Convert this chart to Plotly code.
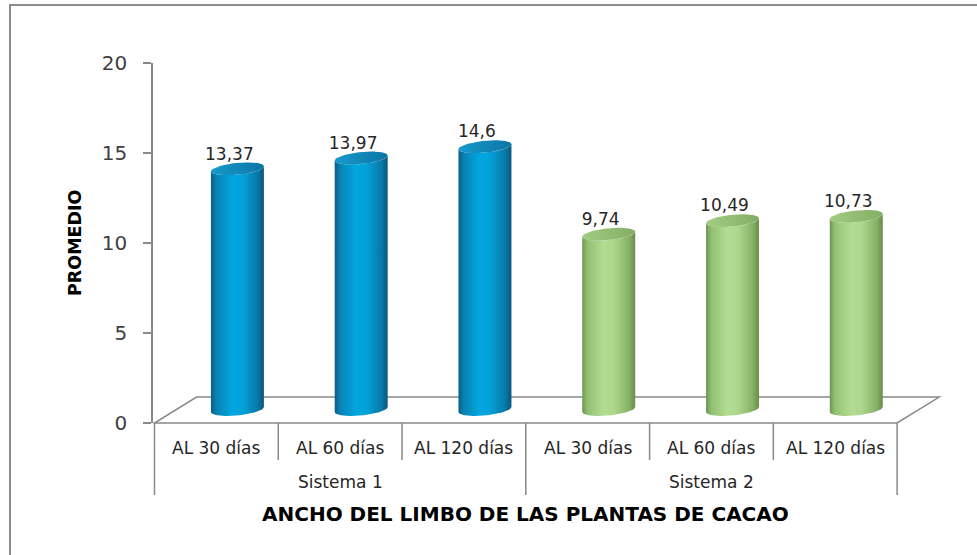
import numpy as np
import plotly.graph_objects as go

# ---- data ----
categories = ["AL 30 días", "AL 60 días", "AL 120 días"]
groups = ["Sistema 1", "Sistema 2"]
sistema1 = [13.37, 13.97, 14.6]
sistema2 = [9.74, 10.49, 10.73]
y_ticks = [0, 5, 10, 15, 20]

series = [sistema1, sistema2]

# ---- style ----
FONT = "DejaVu Sans"
AXIS_GRAY = "#898989"
BLUE_BODY = [[0, "#0B5C84"], [0.1, "#0A82B3"], [0.4, "#02A7E0"], [0.6, "#03A1D9"],
             [0.88, "#0879A9"], [1, "#0B567C"]]
BLUE_CAP = [[0, "#1899CC"], [1, "#0A76A6"]]
GREEN_BODY = [[0, "#6C9753"], [0.1, "#92C072"], [0.4, "#B3DC93"], [0.6, "#ADD78C"],
              [0.88, "#86B266"], [1, "#688D4E"]]
GREEN_CAP = [[0, "#A2CC82"], [1, "#82AD62"]]

# pseudo-3D geometry (axis units)
DEPTH_X, DEPTH_Y = 0.34, 1.44      # floor depth offset
BAR_DX = DEPTH_X / 2               # cylinders sit mid-depth
BASE = 0.75                        # floor height at mid-depth
RX, RY, TILT = 0.214, 0.33, 0.14   # ellipse radii and slight tilt

X_RANGE = [-0.012, 6.5]
Y_RANGE = [0, 20]
ML, MR, MT, MB = 153, 18, 63, 132
W, H = 977, 555
PLOT_W, PLOT_H = W - ML - MR, H - MT - MB


def px_to_paper_x(px):
    return (px - ML) / PLOT_W


def px_to_paper_y(py):
    return (H - MB - py) / PLOT_H


fig = go.Figure()

n_cat = len(categories)
for g, (vals, body_cs, cap_cs) in enumerate(zip(series, [BLUE_BODY, GREEN_BODY], [BLUE_CAP, GREEN_CAP])):
    for k, v in enumerate(vals):
        i = g * n_cat + k
        cx = i + 0.5 + BAR_DX
        top = v + BASE
        t_front = np.linspace(np.pi, 2 * np.pi, 41)
        bx = cx + RX * np.cos(t_front)
        by = BASE + RY * np.sin(t_front) + TILT * np.cos(t_front)
        tx = (cx + RX * np.cos(t_front))[::-1]
        ty = (top + RY * np.sin(t_front) + TILT * np.cos(t_front))[::-1]
        fig.add_trace(go.Scatter(
            x=np.concatenate([bx, tx, bx[:1]]), y=np.concatenate([by, ty, by[:1]]),
            mode="lines", fill="toself", line=dict(width=0),
            fillgradient=dict(type="horizontal", colorscale=body_cs, start=cx - RX, stop=cx + RX),
            hoverinfo="skip", showlegend=False))
        t_all = np.linspace(0, 2 * np.pi, 81)
        fig.add_trace(go.Scatter(
            x=cx + RX * np.cos(t_all), y=top + RY * np.sin(t_all) + TILT * np.cos(t_all),
            mode="lines", fill="toself", line=dict(width=0),
            fillgradient=dict(type="horizontal", colorscale=cap_cs, start=cx - RX, stop=cx + RX),
            hoverinfo="skip", showlegend=False))

# value labels above each cylinder
all_vals = sistema1 + sistema2
fig.add_trace(go.Scatter(
    x=[i + 0.5 + 0.105 for i in range(len(all_vals))],
    y=[v + BASE + 0.75 for v in all_vals],
    mode="text", text=[str(v).replace(".", ",") for v in all_vals],
    textposition="middle center",
    textfont=dict(family=FONT, size=17, color="#262626"),
    hoverinfo="skip", showlegend=False, cliponaxis=False))

shapes = []
# floor (parallelogram)
d_py = DEPTH_Y / (Y_RANGE[1] - Y_RANGE[0])
n_all = 2 * n_cat
shapes.append(dict(
    type="path", xref="x", yref="paper",
    path=f"M 0,0 L {n_all},0 L {n_all + DEPTH_X},{d_py} L {DEPTH_X},{d_py} Z",
    line=dict(color=AXIS_GRAY, width=1.5), fillcolor="rgba(0,0,0,0)", layer="below"))

# category dividers
y_short = px_to_paper_y(460)
y_long = px_to_paper_y(495)
for b in range(n_all + 1):
    y1 = y_long if b % n_cat == 0 else y_short
    shapes.append(dict(type="line", xref="x", yref="paper", x0=b, x1=b, y0=0, y1=y1,
                       line=dict(color=AXIS_GRAY, width=1.5)))

# outer chart border
shapes.append(dict(type="rect", xref="paper", yref="paper",
                   x0=px_to_paper_x(10), x1=px_to_paper_x(1010),
                   y0=px_to_paper_y(600), y1=px_to_paper_y(5),
                   line=dict(color="#8C8C8C", width=2), fillcolor="rgba(0,0,0,0)"))

annotations = []
for i in range(n_all):
    annotations.append(dict(x=i + 0.5, y=px_to_paper_y(448), xref="x", yref="paper",
                            text=categories[i % n_cat], showarrow=False,
                            font=dict(family=FONT, size=17, color="#262626"),
                            xanchor="center", yanchor="middle"))
for g, name in enumerate(groups):
    annotations.append(dict(x=g * n_cat + n_cat / 2, y=px_to_paper_y(482), xref="x", yref="paper",
                            text=name, showarrow=False,
                            font=dict(family=FONT, size=17, color="#262626"),
                            xanchor="center", yanchor="middle"))
annotations.append(dict(x=n_all / 2, y=px_to_paper_y(514), xref="x", yref="paper",
                        text="<b>ANCHO DEL LIMBO DE LAS PLANTAS DE CACAO</b>", showarrow=False,
                        font=dict(family=FONT, size=20, color="#000000"),
                        xanchor="center", yanchor="middle"))
annotations.append(dict(x=px_to_paper_x(75), y=0.5, xref="paper", yref="paper",
                        text="<b>PROMEDIO</b>", showarrow=False, textangle=-90,
                        font=dict(family=FONT, size=17.5, color="#000000"),
                        xanchor="center", yanchor="middle"))

fig.update_layout(
    width=W, height=H, autosize=False,
    margin=dict(l=ML, r=MR, t=MT, b=MB, pad=0),
    paper_bgcolor="white", plot_bgcolor="white",
    showlegend=False,
    xaxis=dict(range=X_RANGE, visible=False, fixedrange=True),
    yaxis=dict(range=Y_RANGE, tickvals=y_ticks, ticktext=[str(t) for t in y_ticks],
               ticks="outside", ticklen=8, tickwidth=1.5, tickcolor=AXIS_GRAY,
               showline=True, linecolor=AXIS_GRAY, linewidth=1.5,
               showgrid=False, zeroline=False, ticklabelstandoff=12,
               tickfont=dict(family=FONT, size=20, color="#404040"), fixedrange=True),
    shapes=shapes, annotations=annotations,
)

fig.write_html("out.html")
